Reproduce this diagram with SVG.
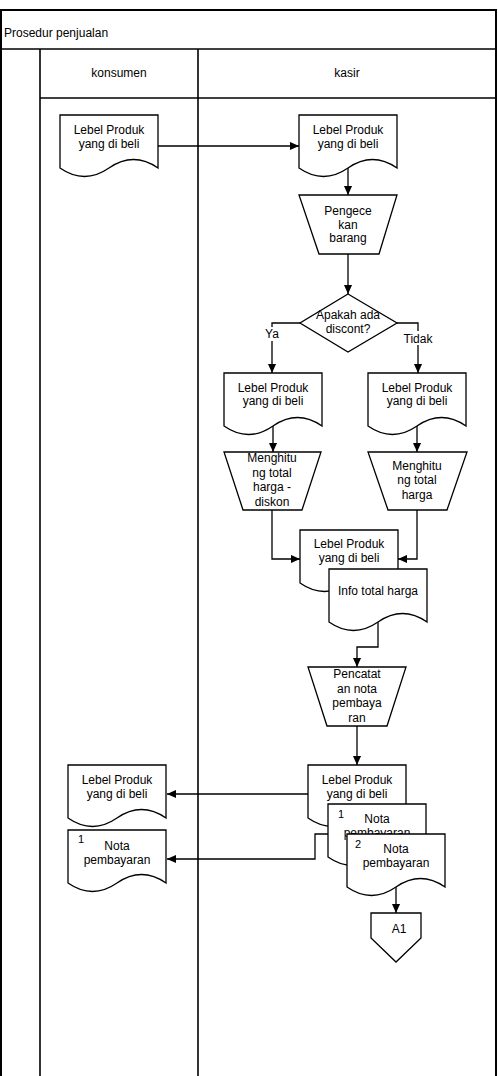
<svg xmlns="http://www.w3.org/2000/svg" xmlns:xlink="http://www.w3.org/1999/xlink" width="498" height="1076" viewBox="0 0 498 1076">
<style>
text{font-family:"Liberation Sans",Arial,sans-serif;font-size:12px;fill:#000;}
.c{text-anchor:middle;}
.shape{fill:#fff;stroke:#000;stroke-width:1.3;}
.lane{fill:none;stroke:#000;stroke-width:1.6;}
.edge{fill:none;stroke:#000;stroke-width:1.3;}
.num{font-size:11px;}
</style>
<defs>
<path id="doc" d="M0,0 H98 V53 Q73.5,36 49,53 Q24.5,70 0,53 Z"/>
<marker id="arr" viewBox="0 0 10 10" refX="10" refY="5" markerWidth="9" markerHeight="9" markerUnits="userSpaceOnUse" orient="auto">
<path d="M0,0.5 L10,5 L0,9.5 Z" fill="#000"/>
</marker>
</defs>
<rect width="498" height="1076" fill="#fff"/>
<g id="pool">
<rect x="1" y="10" width="495" height="1100" fill="none" stroke="#000" stroke-width="2"/>
<line x1="1" y1="49" x2="496" y2="49" class="lane"/>
<line x1="40" y1="49" x2="40" y2="1076" class="lane"/>
<line x1="198" y1="49" x2="198" y2="1076" class="lane"/>
<line x1="40" y1="98" x2="496" y2="98" class="lane"/>
<text x="4" y="37">Prosedur penjualan</text>
<text x="119" y="77" class="c">konsumen</text>
<text x="347" y="77" class="c">kasir</text>
</g>
<g id="connectors">
<path class="edge" d="M158,146 H299" marker-end="url(#arr)"/>
<path class="edge" d="M348,168 V195" marker-end="url(#arr)"/>
<path class="edge" d="M348,254 V294" marker-end="url(#arr)"/>
<path class="edge" d="M300,323 H272 V373" marker-end="url(#arr)"/>
<path class="edge" d="M397,323 H418 V373" marker-end="url(#arr)"/>
<path class="edge" d="M273,426 V452" marker-end="url(#arr)"/>
<path class="edge" d="M417,426 V452" marker-end="url(#arr)"/>
<path class="edge" d="M272,510 V559 H300" marker-end="url(#arr)"/>
<path class="edge" d="M417,510 V559 H398" marker-end="url(#arr)"/>
<path class="edge" d="M378,622 V647 H357 V667" marker-end="url(#arr)"/>
<path class="edge" d="M357,726 V765" marker-end="url(#arr)"/>
<path class="edge" d="M308,794 H167" marker-end="url(#arr)"/>
<path class="edge" d="M328,834 H315 V859 H167" marker-end="url(#arr)"/>
<path class="edge" d="M396,887 V913" marker-end="url(#arr)"/>
<rect x="263" y="327" width="18" height="14" fill="#fff"/>
<text x="272" y="338" class="c">Ya</text>
<rect x="403" y="331" width="30" height="14" fill="#fff"/>
<text x="418" y="342.5" class="c">Tidak</text>
</g>
<g id="k-doc1">
<use xlink:href="#doc" x="60" y="115" class="shape"/>
<text x="109" y="134" class="c">Lebel Produk</text>
<text x="109" y="148" class="c">yang di beli</text>
</g>
<g id="kasir-doc1">
<use xlink:href="#doc" x="299" y="115" class="shape"/>
<text x="348" y="134" class="c">Lebel Produk</text>
<text x="348" y="148" class="c">yang di beli</text>
</g>
<g id="pengecekan">
<polygon points="299,195 397,195 379,254 319,254" class="shape"/>
<text x="348" y="215" class="c">Pengece</text>
<text x="348" y="228.5" class="c">kan</text>
<text x="348" y="242" class="c">barang</text>
</g>
<g id="decision">
<polygon points="348,294 397,323 348,352 300,323" class="shape"/>
<text x="348" y="319" class="c">Apakah ada</text>
<text x="348" y="332.5" class="c">discont?</text>
</g>
<g id="doc-ya">
<use xlink:href="#doc" x="224" y="373" class="shape"/>
<text x="273" y="391.5" class="c">Lebel Produk</text>
<text x="273" y="405" class="c">yang di beli</text>
</g>
<g id="doc-tidak">
<use xlink:href="#doc" x="368" y="373" class="shape"/>
<text x="417" y="391.5" class="c">Lebel Produk</text>
<text x="417" y="405" class="c">yang di beli</text>
</g>
<g id="hitung-diskon">
<polygon points="224,452 321,452 302,510 243,510" class="shape"/>
<text x="272" y="462" class="c">Menghitu</text>
<text x="272" y="476.5" class="c">ng total</text>
<text x="272" y="491" class="c">harga -</text>
<text x="272" y="505.5" class="c">diskon</text>
</g>
<g id="hitung-total">
<polygon points="368,452 467,452 447,510 388,510" class="shape"/>
<text x="417" y="469.5" class="c">Menghitu</text>
<text x="417" y="484" class="c">ng total</text>
<text x="417" y="498.5" class="c">harga</text>
</g>
<g id="doc-mid">
<use xlink:href="#doc" x="300" y="530" class="shape"/>
<text x="349" y="548" class="c">Lebel Produk</text>
<text x="349" y="562" class="c">yang di beli</text>
</g>
<g id="info-total">
<use xlink:href="#doc" x="329" y="569" class="shape"/>
<text x="378" y="595" class="c">Info total harga</text>
</g>
<g id="pencatatan">
<polygon points="308,667 406,667 387,726 327,726" class="shape"/>
<text x="357" y="678" class="c">Pencatat</text>
<text x="357" y="692.5" class="c">an nota</text>
<text x="357" y="707" class="c">pembaya</text>
<text x="357" y="721.5" class="c">ran</text>
</g>
<g id="kasir-doc2">
<use xlink:href="#doc" x="308" y="765" class="shape"/>
<text x="357" y="784" class="c">Lebel Produk</text>
<text x="357" y="798" class="c">yang di beli</text>
</g>
<g id="nota1">
<use xlink:href="#doc" x="328" y="804" class="shape"/>
<text x="338" y="818" class="num">1</text>
<text x="377" y="823" class="c">Nota</text>
<text x="377" y="837" class="c">pembayaran</text>
</g>
<g id="nota2">
<use xlink:href="#doc" x="347" y="834" class="shape"/>
<text x="355" y="848" class="num">2</text>
<text x="396" y="853" class="c">Nota</text>
<text x="396" y="867" class="c">pembayaran</text>
</g>
<g id="a1">
<polygon points="371,913 421,913 421,938 396,962 371,938" class="shape"/>
<text x="399" y="933" class="c">A1</text>
</g>
<g id="k-doc2">
<use xlink:href="#doc" x="68" y="765" class="shape"/>
<text x="117" y="784" class="c">Lebel Produk</text>
<text x="117" y="798" class="c">yang di beli</text>
</g>
<g id="k-nota">
<use xlink:href="#doc" x="68" y="830" class="shape"/>
<text x="78" y="843" class="num">1</text>
<text x="117" y="850" class="c">Nota</text>
<text x="117" y="864" class="c">pembayaran</text>
</g>
</svg>
